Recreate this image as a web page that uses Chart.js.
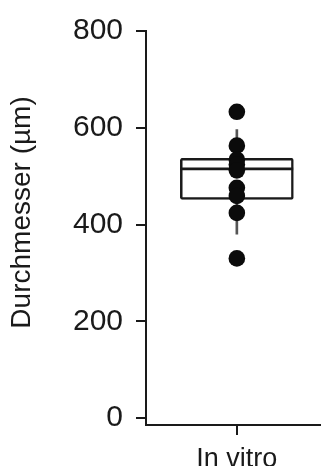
<!DOCTYPE html>
<html>
<head>
<meta charset="utf-8">
<script src="https://cdn.jsdelivr.net/npm/chart.js@4"></script>
<style>
html,body{margin:0;padding:0;background:#fff;overflow:hidden;width:321px;height:466px;}
#wrap{width:336px;height:466px;position:relative;}
</style>
</head>
<body>
<div id="wrap"><canvas id="c"></canvas></div>
<script>
const categories = ['In vitro'];
const points = [633, 563, 534, 524, 512, 476, 459, 424, 330];
const boxRange = [452, 537];
const medianValue = 515;
const whiskerRange = [380, 596];
const yTicks = [0, 200, 400, 600, 800];
const yTitle = 'Durchmesser (µm)';

const FONT = '"Liberation Sans", Arial, Helvetica, sans-serif';
const INK = '#1a1a1a';

new Chart(document.getElementById('c'), {
  type: 'bar',
  data: {
    labels: categories,
    datasets: [
      {
        type: 'line',
        data: points.map(v => ({x: categories[0], y: v})),
        showLine: false,
        pointRadius: 8.3,
        pointHoverRadius: 8.3,
        pointBackgroundColor: '#0b0b0b',
        pointBorderWidth: 0,
        order: 0
      },
      {
        data: [[medianValue - 2, medianValue + 2]],
        backgroundColor: INK,
        borderWidth: 0,
        barThickness: 112,
        grouped: false,
        order: 1
      },
      {
        data: [boxRange],
        backgroundColor: '#ffffff',
        borderColor: INK,
        borderWidth: 2.5,
        borderSkipped: false,
        borderRadius: 2,
        barThickness: 113,
        grouped: false,
        order: 2
      },
      {
        data: [whiskerRange],
        backgroundColor: '#555',
        borderWidth: 0,
        barThickness: 2,
        grouped: false,
        order: 3
      }
    ]
  },
  options: {
    responsive: true,
    maintainAspectRatio: false,
    animation: false,
    events: [],
    layout: {padding: {top: 27, right: 0, left: 0, bottom: 0}},
    plugins: {legend: {display: false}, tooltip: {enabled: false}},
    scales: {
      x: {
        offset: true,
        grid: {display: true, offset: false, drawOnChartArea: false, tickLength: 10, color: INK, lineWidth: 2},
        border: {display: true, color: INK, width: 2},
        ticks: {color: INK, padding: 8, font: {family: FONT, size: 27}},
        afterFit: s => { s.height = 41; }
      },
      y: {
        min: -14.4,
        max: 800,
        afterBuildTicks: s => { s.ticks = yTicks.map(v => ({value: v})); },
        grid: {display: true, drawOnChartArea: false, tickLength: 10, color: INK, lineWidth: 2},
        border: {display: true, color: INK, width: 2},
        ticks: {color: INK, padding: 13, font: {family: FONT, size: 30}},
        title: {
          display: true,
          text: '    ' + yTitle,
          color: INK,
          font: {family: FONT, size: 28},
          padding: {top: 5, bottom: 0}
        },
        afterFit: s => { s.width = 146; }
      }
    }
  }
});
</script>
</body>
</html>
